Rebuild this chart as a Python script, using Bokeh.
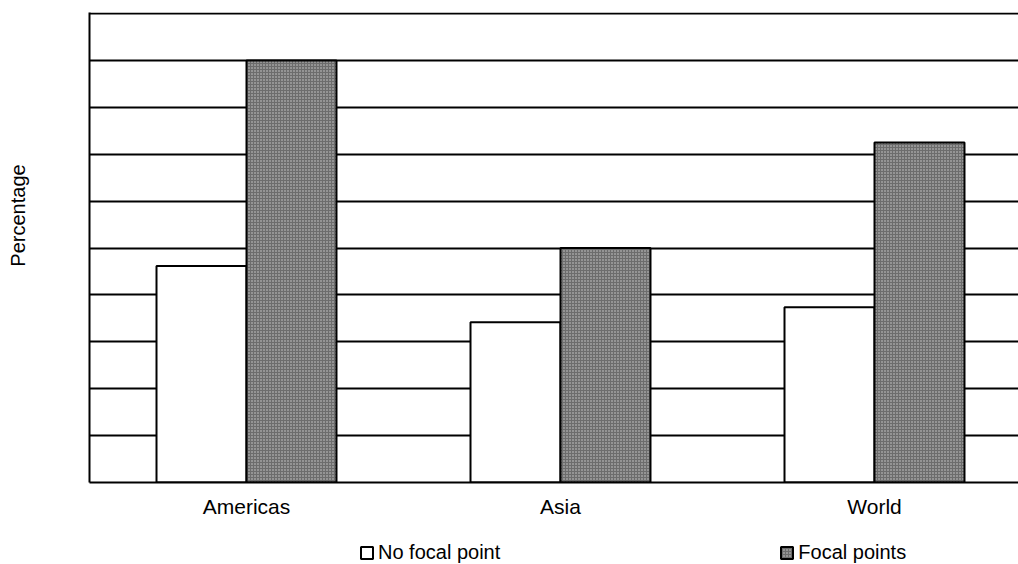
import math
from bokeh.plotting import figure
from bokeh.layouts import row, column
from bokeh.models import (Range1d, FixedTicker, LinearAxis, Legend, LegendItem,
                          ColumnDataSource)
from bokeh.core.properties import value
from bokeh.embed import file_html
from bokeh.resources import INLINE

categories = ["Americas", "Asia", "World"]
no_focal = [46.2, 34.2, 37.4]
focal = [90.0, 50.0, 72.5]
grid_ticks = [10, 20, 30, 40, 50, 60, 70, 80, 90, 100]
y_label = "Percentage"
series_names = ["No focal point", "Focal points"]

FONT = "Liberation Sans"
FOCAL_STYLE = dict(fill_color="#6c6c6c", line_color="black", line_width=2,
                   hatch_pattern="dot", hatch_color="#d0d0d0", hatch_scale=3,
                   hatch_weight=1)
NOFOCAL_STYLE = dict(fill_color="white", line_color="black", line_width=2)

LEFT_W = 40
MAIN_W = 1018 - LEFT_W
MAIN_H = 520
LEG_H = 564 - MAIN_H


def bare(fig):
    fig.outline_line_color = None
    fig.background_fill_color = "white"
    fig.border_fill_color = "white"
    fig.xgrid.visible = False
    fig.ygrid.visible = False
    return fig


# ---- main chart ----
idx = list(range(len(categories)))
centers = [i + 0.5 for i in idx]
bw = 0.2866
off = bw / 2
src = ColumnDataSource(dict(
    x_nf=[c - off for c in centers], x_f=[c + off for c in centers],
    nf=no_focal, f=focal))

frame_w = MAIN_W - (89 - LEFT_W)
p = figure(width=MAIN_W, height=MAIN_H, output_backend="svg", toolbar_location=None,
           x_range=Range1d(0, frame_w / 314), y_range=Range1d(0, 100.25),
           min_border_left=89 - LEFT_W, min_border_right=0, min_border_top=12,
           min_border_bottom=MAIN_H - 12 - 472, x_axis_location=None,
           y_axis_location=None)
bare(p)
p.ygrid.visible = True
p.ygrid.ticker = FixedTicker(ticks=grid_ticks)
p.ygrid.grid_line_color = "black"
p.ygrid.grid_line_width = 2

p.vbar(x="x_nf", top="nf", width=bw, bottom=0, source=src, **NOFOCAL_STYLE)
p.vbar(x="x_f", top="f", width=bw, bottom=0, source=src, **FOCAL_STYLE)

xaxis = LinearAxis(ticker=FixedTicker(ticks=centers),
                   major_label_overrides={c: n for c, n in zip(centers, categories)})
xaxis.major_tick_line_color = None
xaxis.minor_tick_line_color = None
xaxis.axis_line_color = "black"
xaxis.axis_line_width = 2
xaxis.major_label_text_font = FONT
xaxis.major_label_text_font_size = "21px"
xaxis.major_label_text_color = "black"
xaxis.major_label_standoff = 6
p.add_layout(xaxis, "below")

yaxis = LinearAxis(ticker=FixedTicker(ticks=[]))
yaxis.major_tick_line_color = None
yaxis.minor_tick_line_color = None
yaxis.major_label_text_font_size = "0px"
yaxis.axis_line_color = "black"
yaxis.axis_line_width = 2
p.add_layout(yaxis, "left")

# ---- y label strip ----
yl = figure(width=LEFT_W, height=564, output_backend="svg", toolbar_location=None,
            x_range=Range1d(0, LEFT_W), y_range=Range1d(564, 0),
            min_border_left=0, min_border_right=0, min_border_top=0,
            min_border_bottom=0, x_axis_location=None, y_axis_location=None)
bare(yl)
yl.text(x=[17], y=[215], text=[y_label], angle=math.pi / 2,
        text_align="center", text_baseline="middle",
        text_font=value(FONT), text_font_size="20px", text_color="black")

# ---- legend strip ----
lg = figure(width=MAIN_W, height=LEG_H, output_backend="svg", toolbar_location=None,
            x_range=Range1d(0, 1), y_range=Range1d(0, 1),
            min_border_left=0, min_border_right=0, min_border_top=0,
            min_border_bottom=0, x_axis_location=None, y_axis_location=None)
bare(lg)
# legend-only swatches: kept outside the visible range of this strip
swatch = ColumnDataSource(dict(x=[10], top=[0]))
d_nf = lg.vbar(x="x", top="top", width=0.1, source=swatch, **NOFOCAL_STYLE)
d_f = lg.vbar(x="x", top="top", width=0.1, source=swatch, **FOCAL_STYLE)
legend = Legend(items=[LegendItem(label=series_names[0], renderers=[d_nf]),
                       LegendItem(label=series_names[1], renderers=[d_f])],
                orientation="horizontal", location=(360 - LEFT_W - 50, 0), spacing=279,
                glyph_width=15, glyph_height=15, label_standoff=4,
                label_text_font=FONT, label_text_font_size="20px",
                label_text_color="black",
                padding=0, margin=0, border_line_color=None,
                background_fill_alpha=0)
lg.add_layout(legend, "center")

layout = row(yl, column(p, lg))
open("out.html", "w").write(file_html(layout, INLINE))
